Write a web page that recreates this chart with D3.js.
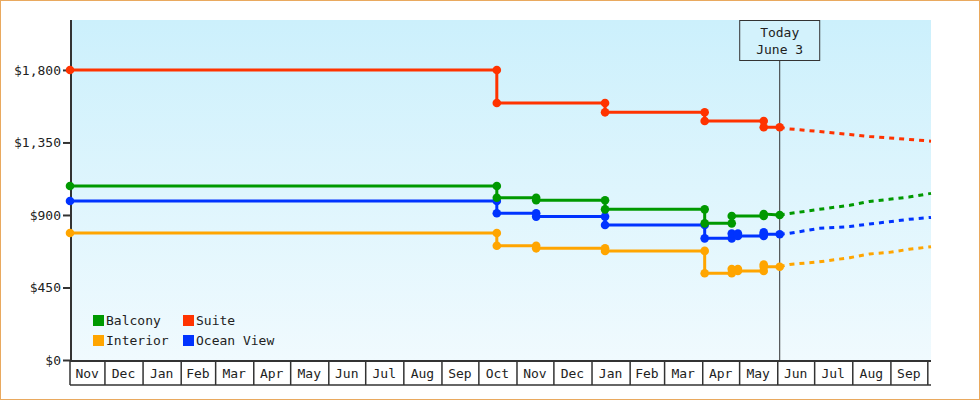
<!DOCTYPE html>
<html>
<head>
<meta charset="utf-8">
<script src="https://cdn.jsdelivr.net/npm/d3@7"></script>
<style>
  body { margin: 0; background: #fff; }
  text { font-family: "DejaVu Sans Mono", monospace; font-size: 13px; fill: #222; }
</style>
</head>
<body>
<script>
// observed prices (each date/price pair is a marker; repeated dates make the steps)
const balconyDates = ["2012-11-03","2013-10-16","2013-10-16","2013-11-17","2013-11-17","2014-01-12","2014-01-12","2014-04-03","2014-04-03","2014-04-25","2014-04-25","2014-05-21","2014-05-21","2014-06-03"];
const balconyPrices = [1080, 1080, 1007, 1007, 991, 991, 935, 935, 848, 848, 894, 894, 906, 900];

const suiteDates = ["2012-11-03","2013-10-16","2013-10-16","2014-01-12","2014-01-12","2014-04-03","2014-04-03","2014-05-21","2014-05-21","2014-06-03"];
const suitePrices = [1800, 1800, 1595, 1595, 1537, 1537, 1483, 1483, 1444, 1444];

const interiorDates = ["2012-11-03","2013-10-16","2013-10-16","2013-11-17","2013-11-17","2014-01-12","2014-01-12","2014-04-03","2014-04-03","2014-04-25","2014-04-25","2014-04-30","2014-04-30","2014-05-21","2014-05-21","2014-05-21","2014-06-03"];
const interiorPrices = [788, 788, 709, 709, 693, 693, 677, 677, 538, 538, 565, 565, 553, 553, 593, 579, 579];

const oceanDates = ["2012-11-03","2013-10-16","2013-10-16","2013-11-17","2013-11-17","2014-01-12","2014-01-12","2014-04-03","2014-04-03","2014-04-25","2014-04-25","2014-04-30","2014-04-30","2014-05-21","2014-05-21","2014-05-21","2014-06-03"];
const oceanPrices = [987, 987, 911, 911, 890, 890, 838, 838, 755, 755, 785, 785, 770, 770, 792, 780, 780];

// forecast (dashed)
const forecastDates = ["2014-06-03","2014-06-11","2014-07-05","2014-07-30","2014-08-15","2014-08-31","2014-09-16","2014-10-04"];
const balconyForecast = [900, 909, 935, 960, 984, 997, 1011, 1034];
const suiteForecast = [1444, 1434, 1418, 1400, 1387, 1378, 1369, 1358];
const interiorForecast = [579, 593, 609, 635, 658, 668, 687, 703];
const oceanForecast = [780, 786, 817, 828, 844, 858, 873, 885];

const seriesNames = ["Balcony", "Suite", "Interior", "Ocean View"];
const seriesColors = ["#009900", "#ff3300", "#ffa500", "#0033ff"];
const yTicks = [0, 450, 900, 1350, 1800];
const todayDate = "2014-06-03";
const todayLabel = ["Today", "June 3"];
const startDate = "2012-11-03";
const endDate = "2014-10-04";

const parse = d3.timeParse("%Y-%m-%d");
const width = 980, height = 400;
const plotLeft = 70, plotRight = 931, plotTop = 20, plotBottom = 360;

const x = d3.scaleTime().domain([parse(startDate), parse(endDate)]).range([plotLeft, plotRight]);
const y = d3.scaleLinear().domain([0, 2110]).range([plotBottom, plotTop]);

const svg = d3.select("body").append("svg")
  .attr("width", width)
  .attr("height", height);

svg.append("rect").attr("width", width).attr("height", height).attr("fill", "#fff");
svg.append("rect")
  .attr("x", 0.5).attr("y", 0.5)
  .attr("width", width - 1).attr("height", height - 1)
  .attr("fill", "none").attr("stroke", "#e9a95f");

const grad = svg.append("defs").append("linearGradient")
  .attr("id", "bg").attr("x1", 0).attr("y1", 0).attr("x2", 0).attr("y2", 1);
grad.append("stop").attr("offset", "0%").attr("stop-color", "#ccf0fc");
grad.append("stop").attr("offset", "100%").attr("stop-color", "#f0fafe");

svg.append("rect")
  .attr("x", plotLeft).attr("y", plotTop)
  .attr("width", plotRight - plotLeft).attr("height", plotBottom - plotTop)
  .attr("fill", "url(#bg)");

// month cells under the plot
const months = d3.timeMonth.range(d3.timeMonth.ceil(x.domain()[0]), x.domain()[1]);
const xAxis = d3.axisBottom(x)
  .tickValues(months)
  .tickSize(25)
  .tickFormat("")
  .tickSizeOuter(0);
const gx = svg.append("g").attr("transform", `translate(0,${plotBottom})`).call(xAxis);
gx.select(".domain").remove();
gx.selectAll(".tick line").attr("stroke", "#333").attr("stroke-width", 1.5);

svg.append("line")
  .attr("x1", plotLeft).attr("x2", plotLeft)
  .attr("y1", plotBottom).attr("y2", plotBottom + 25)
  .attr("stroke", "#333").attr("stroke-width", 1.5);
svg.append("line")
  .attr("x1", plotLeft).attr("x2", plotRight)
  .attr("y1", plotBottom + 25).attr("y2", plotBottom + 25)
  .attr("stroke", "#333").attr("stroke-width", 1.5);

const cellStarts = [x.domain()[0]].concat(months);
const cellEnd = d => d3.min([d3.timeMonth.offset(d3.timeMonth.floor(d), 1), x.domain()[1]]);
svg.append("g").selectAll("text")
  .data(cellStarts.filter(d => x(cellEnd(d)) - x(d) > 20))
  .enter().append("text")
  .attr("x", d => (x(d) + x(cellEnd(d))) / 2)
  .attr("y", 378)
  .attr("text-anchor", "middle")
  .text(d => d3.timeFormat("%b")(d));

// y axis
const yAxis = d3.axisLeft(y)
  .tickValues(yTicks)
  .tickSize(7)
  .tickSizeOuter(0)
  .tickPadding(2)
  .tickFormat(d3.format("$,"));
const gy = svg.append("g").attr("transform", `translate(${plotLeft},0)`).call(yAxis);
gy.select(".domain").remove();
gy.selectAll(".tick line").attr("stroke", "#333").attr("stroke-width", 2);
gy.selectAll(".tick text").attr("fill", null);
gy.attr("font-family", null).attr("font-size", null);

svg.append("line")
  .attr("x1", plotLeft + 1).attr("x2", plotLeft + 1)
  .attr("y1", plotTop).attr("y2", plotBottom)
  .attr("stroke", "#333").attr("stroke-width", 2);
svg.append("line")
  .attr("x1", plotLeft).attr("x2", plotRight)
  .attr("y1", plotBottom + 1).attr("y2", plotBottom + 1)
  .attr("stroke", "#333").attr("stroke-width", 2);

// today marker
const tx = x(parse(todayDate));
svg.append("line")
  .attr("x1", tx).attr("x2", tx)
  .attr("y1", 60).attr("y2", plotBottom)
  .attr("stroke", "#333").attr("stroke-width", 1);
svg.append("rect")
  .attr("x", tx - 40).attr("y", plotTop + 0.5)
  .attr("width", 80).attr("height", 40)
  .attr("fill", "#d3f2fc").attr("stroke", "#333");
svg.append("text").attr("x", tx).attr("y", 37).attr("text-anchor", "middle").text(todayLabel[0]);
svg.append("text").attr("x", tx).attr("y", 54).attr("text-anchor", "middle").text(todayLabel[1]);

// series
const series = [
  { dates: interiorDates, prices: interiorPrices, fc: interiorForecast, color: seriesColors[2] },
  { dates: oceanDates, prices: oceanPrices, fc: oceanForecast, color: seriesColors[3] },
  { dates: balconyDates, prices: balconyPrices, fc: balconyForecast, color: seriesColors[0] },
  { dates: suiteDates, prices: suitePrices, fc: suiteForecast, color: seriesColors[1] }
];

const line = d3.line().x(d => x(d[0])).y(d => y(d[1]));

series.forEach(s => {
  const pts = s.dates.map((d, i) => [parse(d), s.prices[i]]);
  const fpts = forecastDates.map((d, i) => [parse(d), s.fc[i]]);

  svg.append("path")
    .datum(fpts)
    .attr("d", line)
    .attr("fill", "none")
    .attr("stroke", s.color)
    .attr("stroke-width", 3)
    .attr("stroke-dasharray", "5,5");

  svg.append("path")
    .datum(pts)
    .attr("d", line)
    .attr("fill", "none")
    .attr("stroke", s.color)
    .attr("stroke-width", 3);

  svg.append("g").selectAll("circle")
    .data(pts)
    .enter().append("circle")
    .attr("cx", d => x(d[0]))
    .attr("cy", d => y(d[1]))
    .attr("r", 4.3)
    .attr("fill", s.color);
});

// legend
const legend = svg.append("g");
seriesNames.forEach((name, i) => {
  const lx = i % 2 === 0 ? 93 : 183;
  const ly = 315 + Math.floor(i / 2) * 20;
  legend.append("rect")
    .attr("x", lx).attr("y", ly)
    .attr("width", 11).attr("height", 11)
    .attr("fill", seriesColors[i]);
  legend.append("text")
    .attr("x", lx + 13).attr("y", ly + 10)
    .text(name);
});
</script>
</body>
</html>
